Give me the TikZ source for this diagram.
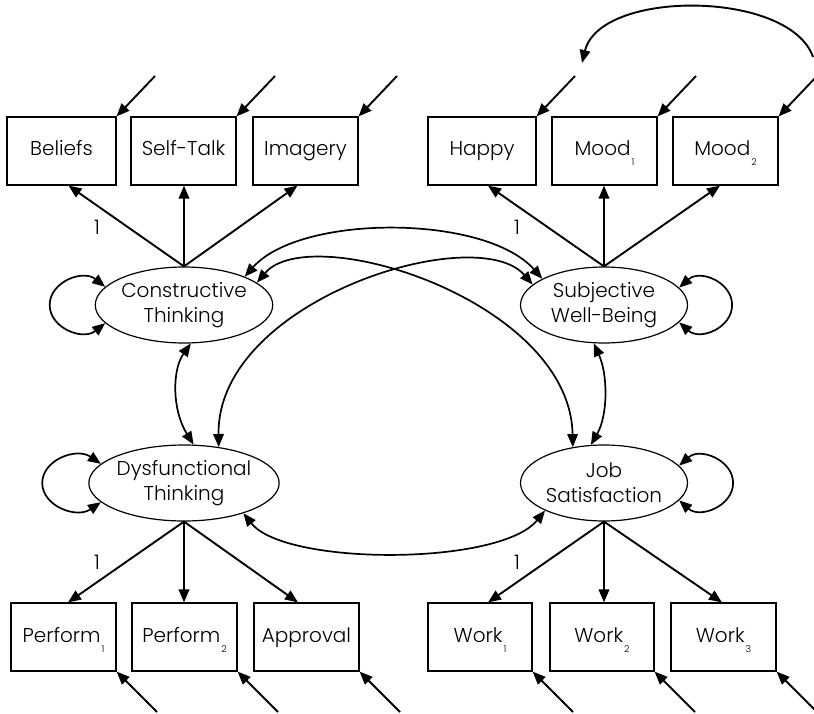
\documentclass[tikz,border=0pt]{standalone}
\usepackage{fontspec}
\setmainfont{Poppins}[UprightFont=* Light]
\usetikzlibrary{shapes.geometric,arrows.meta,calc}

\tikzset{
  obs/.style={draw, line width=1.2pt, minimum width=105pt, minimum height=68pt,
    inner sep=0pt, text height=15pt, text depth=5pt, font=\fontsize{20}{24}\selectfont},
  lat/.style={draw, ellipse, line width=1.2pt, minimum width=167pt, minimum height=76pt,
    inner sep=0pt, align=center, font=\fontsize{20}{25}\selectfont},
  arr/.style={line width=1.9pt, -{Triangle[length=13pt,width=10.5pt]}},
  cov/.style={line width=1.7pt, {Triangle[length=13pt,width=10.5pt]}-{Triangle[length=13pt,width=10.5pt]}},
  lab/.style={font=\fontsize{20}{24}\selectfont, inner sep=0pt}
}
\newcommand{\subidx}[1]{\hspace{1pt}\smash{\raisebox{-10pt}{\fontsize{9.5}{9.5}\selectfont #1}}}

\begin{document}
\begin{tikzpicture}[x=1pt,y=-1pt]
\useasboundingbox (0,0) rectangle (814,714);

% latent variables
\node[lat] (ct)  at (184,305) {Constructive\\Thinking};
\node[lat] (swb) at (604,305) {Subjective\\Well-Being};
\node[lat] (dt)  at (184,483) {Dysfunctional\\Thinking};
\node[lat] (js)  at (604,483) {Job\\Satisfaction};

% indicators, top row
\node[obs, minimum width=109pt] (beliefs) at (61.5,151) {Beliefs};
\node[obs] (selftalk) at (183.5,151) {Self-Talk};
\node[obs] (imagery)  at (305.5,151) {Imagery};
\node[obs, minimum width=108pt] (happy) at (482,151) {Happy};
\node[obs] (mood1) at (604.5,151) {Mood\subidx{1}};
\node[obs] (mood2) at (725.5,151) {Mood\subidx{2}};

% indicators, bottom row
\node[obs] (perf1)    at (63.5,637)  {Perform\subidx{1}};
\node[obs] (perf2)    at (184.5,637) {Perform\subidx{2}};
\node[obs] (approval) at (306.5,637) {Approval};
\node[obs, minimum width=104pt] (work1) at (480,637) {Work\subidx{1}};
\node[obs, minimum width=104pt] (work2) at (602,637) {Work\subidx{2}};
\node[obs] (work3) at (723.5,637) {Work\subidx{3}};

% loadings
\draw[arr] (ct.north) -- ($(beliefs.south)+(7,0)$);
\draw[arr] (ct.north) -- (ct.north |- selftalk.south);
\draw[arr] (ct.north) -- ($(imagery.south)+(-8,0)$);
\draw[arr] (swb.north) -- ($(happy.south)+(6,0)$);
\draw[arr] (swb.north) -- (swb.north |- mood1.south);
\draw[arr] (swb.north) -- ($(mood2.south)+(-5.5,0)$);
\draw[arr] (dt.south) -- ($(perf1.north)+(4.5,0)$);
\draw[arr] (dt.south) -- (dt.south |- perf2.north);
\draw[arr] (dt.south) -- ($(approval.north)+(-8.5,0)$);
\draw[arr] (js.south) -- ($(work1.north)+(8,0)$);
\draw[arr] (js.south) -- (js.south |- work2.north);
\draw[arr] (js.south) -- ($(work3.north)+(-1.5,0)$);

\node[lab] (l1) at (97,227)  {1};
\node[lab] (l2) at (517,227) {1};
\node[lab] (l3) at (97,562)  {1};
\node[lab] (l4) at (517,562) {1};

% measurement errors
\coordinate (e1) at (155,76);  \draw[arr] (e1) -- (beliefs.north east);
\coordinate (e2) at (275,76);  \draw[arr] (e2) -- (selftalk.north east);
\coordinate (e3) at (397,76);  \draw[arr] (e3) -- (imagery.north east);
\coordinate (e4) at (575,76);  \draw[arr] (e4) -- (happy.north east);
\coordinate (e5) at (696,76);  \draw[arr] (e5) -- (mood1.north east);
\coordinate (e6) at (817,76);  \draw[arr] (e6) -- (mood2.north east);
\coordinate (f1) at (157,712); \draw[arr] (f1) -- (perf1.south east);
\coordinate (f2) at (278,712); \draw[arr] (f2) -- (perf2.south east);
\coordinate (f3) at (400,712); \draw[arr] (f3) -- (approval.south east);
\coordinate (f4) at (573,712); \draw[arr] (f4) -- (work1.south east);
\coordinate (f5) at (695,712); \draw[arr] (f5) -- (work2.south east);
\coordinate (f6) at (817,712); \draw[arr] (f6) -- (work3.south east);

% error covariance
\coordinate (rc) at (813,57);
\coordinate (hc) at (582,63);
\draw[arr] (rc) .. controls (790,-10) and (600,-11) .. (hc);

% variances of the latent variables
\draw[cov] (ct.167) .. controls ($(ct.west)+(-12,-36)$) and ($(ct.west)+(-45,-23)$) .. ($(ct.west)+(-45,0)$)
  .. controls ($(ct.west)+(-45,23)$) and ($(ct.west)+(-12,36)$) .. (ct.193);
\draw[cov] (dt.167) .. controls ($(dt.west)+(-12,-36)$) and ($(dt.west)+(-46,-23)$) .. ($(dt.west)+(-46,0)$)
  .. controls ($(dt.west)+(-46,23)$) and ($(dt.west)+(-12,36)$) .. (dt.193);
\draw[cov] (swb.13) .. controls ($(swb.east)+(12,-36)$) and ($(swb.east)+(44,-23)$) .. ($(swb.east)+(44,0)$)
  .. controls ($(swb.east)+(44,23)$) and ($(swb.east)+(12,36)$) .. (swb.347);
\draw[cov] (js.13) .. controls ($(js.east)+(12,-36)$) and ($(js.east)+(45,-23)$) .. ($(js.east)+(45,0)$)
  .. controls ($(js.east)+(45,23)$) and ($(js.east)+(12,36)$) .. (js.347);

% covariances between the latent variables
\draw[cov] (ct.-80) .. controls (172,370) and (172,410) .. (dt.76);
\draw[cov] (swb.255) .. controls (608,375) and (608,415) .. (js.109);
\draw[cov] (ct.25) .. controls (300,214) and (485,214) .. (swb.157);
\draw[cov] (ct.17) .. controls (310,220) and (570,300) .. (js.131);
\draw[cov] (dt.46) .. controls (216.5,300) and (476.5,220) .. (swb.164);
\draw[cov] (dt.-27) .. controls (285,566) and (500,566) .. (js.205);
\end{tikzpicture}
\end{document}
